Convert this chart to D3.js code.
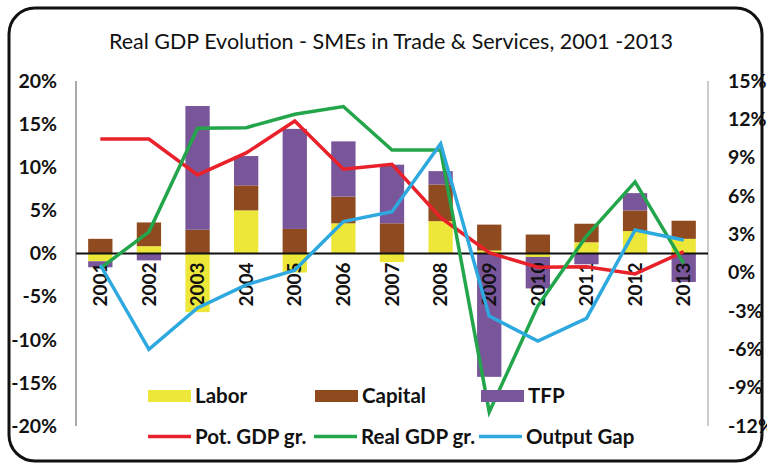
<!DOCTYPE html>
<html>
<head>
<meta charset="utf-8">
<script src="https://cdn.jsdelivr.net/npm/d3@7"></script>
<style>
  html, body { margin: 0; padding: 0; background: #fff; }
  svg { display: block; font-family: Lato, "Open Sans", sans-serif; }
</style>
</head>
<body>
<svg id="chart" width="767" height="466"></svg>
<script>
const years = ['2001', '2002', '2003', '2004', '2005', '2006', '2007', '2008', '2009', '2010', '2011', '2012', '2013'];

// contributions, left axis (%)
const labor = [-0.9, 0.85, -6.8, 5.0, -2.2, 3.5, -1.0, 3.75, 0.35, -0.4, 1.3, 2.6, 1.7];
const capital = [1.7, 2.75, 2.75, 2.9, 2.85, 3.1, 3.5, 4.25, 3.0, 2.2, 2.15, 2.4, 2.1];
const tfp = [-0.7, -0.8, 14.35, 3.4, 11.6, 6.4, 6.8, 1.55, -14.3, -3.65, -1.25, 2.0, -3.3];

// growth lines, right axis (%)
const potGdp = [10.46, 10.46, 7.65, 9.37, 11.87, 8.09, 8.48, 4.3, 1.56, 0.42, 0.47, -0.1, 1.64];
const realGdp = [0.34, 3.2, 11.3, 11.35, 12.4, 13.0, 9.6, 9.6, -10.9, -2.6, 2.87, 7.1, 0.73];
const outputGap = [0.6, -6.0, -2.76, -0.96, 0.2, 4.0, 4.77, 10.1, -3.4, -5.35, -3.57, 3.34, 2.56];

const leftTicks = [20, 15, 10, 5, 0, -5, -10, -15, -20];
const rightTicks = [15, 12, 9, 6, 3, 0, -3, -6, -9, -12];

const colors = {
    labor: '#ede73a',
    capital: '#8f4a1f',
    tfp: '#79559a',
    pot: '#e8212a',
    real: '#23a54b',
    gap: '#2ea9df'
};

const svg = d3.select('#chart');
const plot = { left: 76, right: 708, top: 81, bottom: 426 };

// frame
svg.append('rect')
    .attr('x', 9).attr('y', 8)
    .attr('width', 753).attr('height', 453)
    .attr('rx', 26)
    .attr('fill', '#fff')
    .attr('stroke', '#111')
    .attr('stroke-width', 3);

svg.append('text')
    .text('Real GDP Evolution - SMEs in Trade & Services, 2001 -2013')
    .attr('x', 391).attr('y', 49)
    .attr('text-anchor', 'middle')
    .attr('fill', '#111')
    .style('font-size', '21.5px');

const x = d3.scaleBand().domain(years).range([plot.left, plot.right]).paddingInner(0.5).paddingOuter(0.25);
const yL = d3.scaleLinear().domain([-20, 20]).range([plot.bottom, plot.top]);
const yR = d3.scaleLinear().domain([-12, 15]).range([plot.bottom, plot.top]);

// axis lines
svg.append('line')
    .attr('x1', plot.left).attr('x2', plot.left)
    .attr('y1', plot.top).attr('y2', plot.bottom)
    .attr('stroke', '#555').attr('stroke-width', 1);
svg.append('line')
    .attr('x1', plot.right).attr('x2', plot.right)
    .attr('y1', plot.top).attr('y2', plot.bottom)
    .attr('stroke', '#999').attr('stroke-width', 1);

svg.append('g').selectAll('text')
    .data(leftTicks)
    .join('text')
    .text(d => d + '%')
    .attr('x', 57)
    .attr('y', d => yL(d))
    .attr('dy', '0.35em')
    .attr('text-anchor', 'end')
    .attr('fill', '#111')
    .style('font-size', '19.5px')
    .style('font-weight', 'bold');

svg.append('g').selectAll('text')
    .data(rightTicks)
    .join('text')
    .text(d => d + '%')
    .attr('x', 728)
    .attr('y', d => yR(d))
    .attr('dy', '0.35em')
    .attr('fill', '#111')
    .style('font-size', '19.5px')
    .style('font-weight', 'bold');

// stacked bars
const rows = years.map((yr, i) => ({ year: yr, labor: labor[i], capital: capital[i], tfp: tfp[i] }));
const series = d3.stack()
    .keys(['labor', 'capital', 'tfp'])
    .offset(d3.stackOffsetDiverging)(rows);

svg.append('g').selectAll('g')
    .data(series)
    .join('g')
    .attr('fill', d => colors[d.key])
    .selectAll('rect')
    .data(d => d)
    .join('rect')
    .attr('x', d => x(d.data.year))
    .attr('width', x.bandwidth())
    .attr('y', d => yL(Math.max(d[0], d[1])))
    .attr('height', d => Math.abs(yL(d[0]) - yL(d[1])));

// zero line
svg.append('line')
    .attr('x1', plot.left).attr('x2', plot.right)
    .attr('y1', yL(0)).attr('y2', yL(0))
    .attr('stroke', '#111').attr('stroke-width', 2);

// year labels
svg.append('g').selectAll('text')
    .data(years)
    .join('text')
    .text(d => d)
    .attr('transform', d => 'translate(' + (x(d) + x.bandwidth() / 2) + ',' + (yL(0) + 9) + ') rotate(-90)')
    .attr('dy', '0.35em')
    .attr('text-anchor', 'end')
    .attr('fill', '#111')
    .style('font-size', '19px')
    .style('font-weight', 'bold');

// lines
const lineGen = d3.line()
    .x((d, i) => x(years[i]) + x.bandwidth() / 2)
    .y(d => yR(d));

[[potGdp, colors.pot], [realGdp, colors.real], [outputGap, colors.gap]].forEach(([vals, c]) => {
    svg.append('path')
        .datum(vals)
        .attr('d', lineGen)
        .attr('fill', 'none')
        .attr('stroke', c)
        .attr('stroke-width', 3.5)
        .attr('stroke-linejoin', 'miter');
});

// legend
const barLegend = [['Labor', colors.labor, 148], ['Capital', colors.capital, 315], ['TFP', colors.tfp, 481]];
const lineLegend = [['Pot. GDP gr.', colors.pot, 148], ['Real GDP gr.', colors.real, 314], ['Output Gap', colors.gap, 479]];

const leg = svg.append('g');
barLegend.forEach(([name, c, lx]) => {
    leg.append('rect')
        .attr('x', lx).attr('y', 390)
        .attr('width', 43).attr('height', 12)
        .attr('fill', c);
    leg.append('text')
        .text(name)
        .attr('x', lx + 47).attr('y', 396)
        .attr('dy', '0.35em')
        .attr('fill', '#111')
        .style('font-size', '20.5px')
        .style('font-weight', 'bold');
});
lineLegend.forEach(([name, c, lx]) => {
    leg.append('line')
        .attr('x1', lx).attr('x2', lx + 43)
        .attr('y1', 436.5).attr('y2', 436.5)
        .attr('stroke', c).attr('stroke-width', 3.5);
    leg.append('text')
        .text(name)
        .attr('x', lx + 47).attr('y', 437)
        .attr('dy', '0.35em')
        .attr('fill', '#111')
        .style('font-size', '20.5px')
        .style('font-weight', 'bold');
});
</script>
</body>
</html>
